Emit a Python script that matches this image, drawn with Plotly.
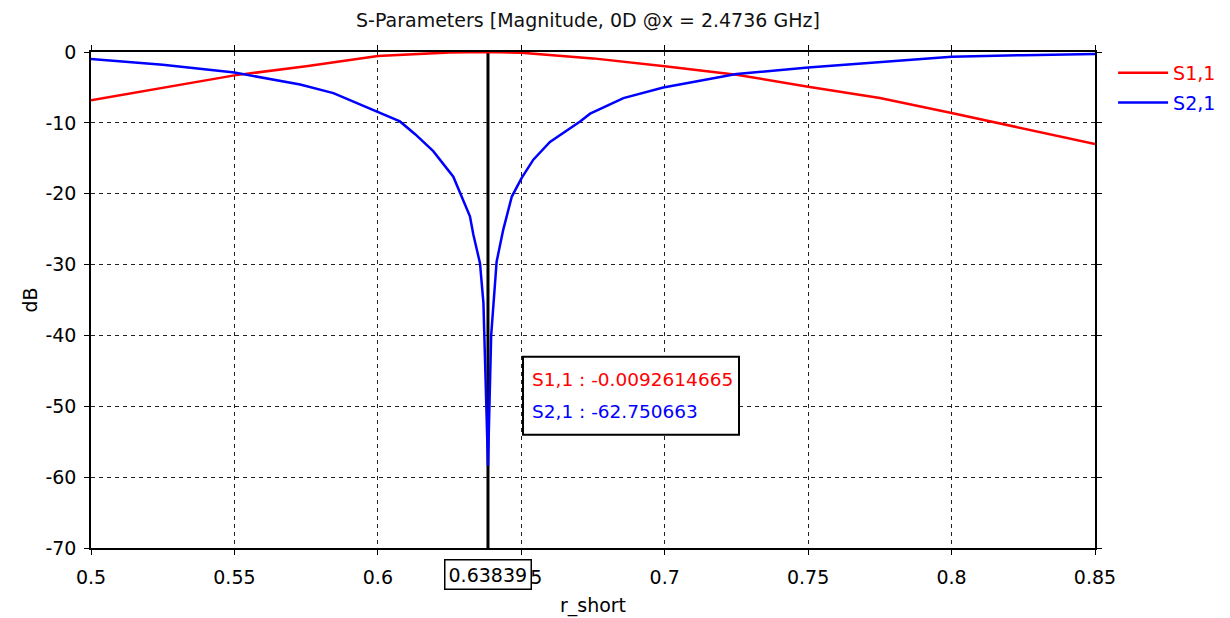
import plotly.graph_objects as go

# ---- data ----
s11_x = [0.5, 0.525, 0.55, 0.575, 0.6, 0.625, 0.63839, 0.65, 0.675, 0.7, 0.725, 0.75, 0.775, 0.8, 0.825, 0.85]
s11_y = [-6.8, -5.1, -3.3, -2.0, -0.55, -0.06, -0.0092614665, -0.1, -0.9, -2.0, -3.2, -4.9, -6.5, -8.6, -10.8, -13.0]

s21_x = [0.5, 0.525, 0.55, 0.5729, 0.5845, 0.6, 0.6077, 0.613, 0.6193, 0.6263, 0.6286, 0.6321, 0.6333,
         0.6356, 0.6368, 0.6374, 0.63839, 0.6395, 0.6414, 0.6437, 0.6467, 0.6501, 0.6542, 0.66,
         0.6705, 0.674, 0.6856, 0.6995, 0.725, 0.75, 0.775, 0.8, 0.825, 0.85]
s21_y = [-1.0, -1.8, -2.9, -4.6, -5.8, -8.4, -9.8, -11.6, -14.0, -17.6, -19.9, -23.2, -25.8,
         -29.8, -35.4, -44.5, -58.4, -40.0, -29.6, -25.1, -20.4, -17.8, -15.2, -12.7,
         -9.8, -8.7, -6.5, -5.0, -3.1, -2.2, -1.4, -0.66, -0.45, -0.28]

marker_x = 0.63839
marker_vals = ["S1,1 : -0.0092614665", "S2,1 : -62.750663"]
series_names = ["S1,1", "S2,1"]
series_colors = ["#ff0000", "#0000ff"]

x_ticks = [0.5, 0.55, 0.6, 0.65, 0.7, 0.75, 0.8, 0.85]
x_ticktext = ["0.5", "0.55", "0.6", "0.65", "0.7", "0.75", "0.8", "0.85"]
y_ticks = [0, -10, -20, -30, -40, -50, -60, -70]
y_ticktext = ["0", "-10", "-20", "-30", "-40", "-50", "-60", "-70"]

FONT = "DejaVu Sans"
FS = 19

fig = go.Figure()
for xs, ys, name, col in [(s11_x, s11_y, series_names[0], series_colors[0]),
                          (s21_x, s21_y, series_names[1], series_colors[1])]:
    fig.add_trace(go.Scatter(
        x=xs, y=ys, mode="lines", name=f'<span style="color:{col}">{name}</span>',
        line=dict(color=col, width=2.5), legendgroup=name,
    ))

# marker line
fig.add_shape(type="line", xref="x", yref="y", x0=marker_x, x1=marker_x, y0=0, y1=-70,
              line=dict(color="black", width=3), layer="between")

# readout box
fig.add_shape(type="rect", xref="x", yref="y", x0=0.6506, x1=0.7259, y0=-43.0, y1=-54.0,
              line=dict(color="black", width=2), fillcolor="white", layer="above")
fig.add_annotation(x=0.6530, y=-46.2, xref="x", yref="y", xanchor="left", yanchor="middle",
                   text=marker_vals[0], showarrow=False,
                   font=dict(family=FONT, size=18.5, color=series_colors[0]))
fig.add_annotation(x=0.6530, y=-50.7, xref="x", yref="y", xanchor="left", yanchor="middle",
                   text=marker_vals[1], showarrow=False,
                   font=dict(family=FONT, size=18.5, color=series_colors[1]))

# marker x label box
fig.add_annotation(x=marker_x, y=-0.0544, xref="x", yref="paper", xanchor="center", yanchor="middle",
                   text=f"{marker_x}", showarrow=False, bgcolor="white",
                   bordercolor="black", borderwidth=1.5, borderpad=3,
                   font=dict(family=FONT, size=FS, color="black"))

fig.update_layout(
    width=1230, height=618,
    margin=dict(l=91, r=135, t=52, b=70, autoexpand=False),
    paper_bgcolor="white", plot_bgcolor="white",
    font=dict(family=FONT, size=FS, color="black"),
    title=dict(text="S-Parameters [Magnitude, 0D @x = 2.4736 GHz]", xref="container", x=0.478,
               y=1 - 20 / 618, yanchor="middle", xanchor="center",
               font=dict(family=FONT, size=FS, color="#111")),
    legend=dict(x=1.018, xanchor="left", y=1.0 - 2 / 496, yanchor="top", itemwidth=50,
                font=dict(family=FONT, size=FS), tracegroupgap=2, bgcolor="rgba(0,0,0,0)"),
    showlegend=True,
)
fig.update_xaxes(range=[0.5, 0.85], tickvals=x_ticks, ticktext=x_ticktext,
                 showline=True, linecolor="black", linewidth=1.5, mirror="ticks",
                 ticks="outside", ticklen=5, tickcolor="black",
                 showgrid=True, gridcolor="#222", griddash="4px,4px", gridwidth=1,
                 zeroline=False,
                 title=dict(text="r_short", standoff=12, font=dict(family=FONT, size=FS, color="black")),
                 ticklabelstandoff=6)
fig.update_yaxes(range=[-70, 0], tickvals=y_ticks, ticktext=y_ticktext,
                 showline=True, linecolor="black", linewidth=1.5, mirror="ticks",
                 ticks="outside", ticklen=5, tickcolor="black",
                 showgrid=True, gridcolor="#222", griddash="4px,4px", gridwidth=1,
                 zeroline=False,
                 title=dict(text="dB", standoff=3, font=dict(family=FONT, size=FS, color="black")),
                 ticklabelstandoff=4)

fig.write_html("out.html")
